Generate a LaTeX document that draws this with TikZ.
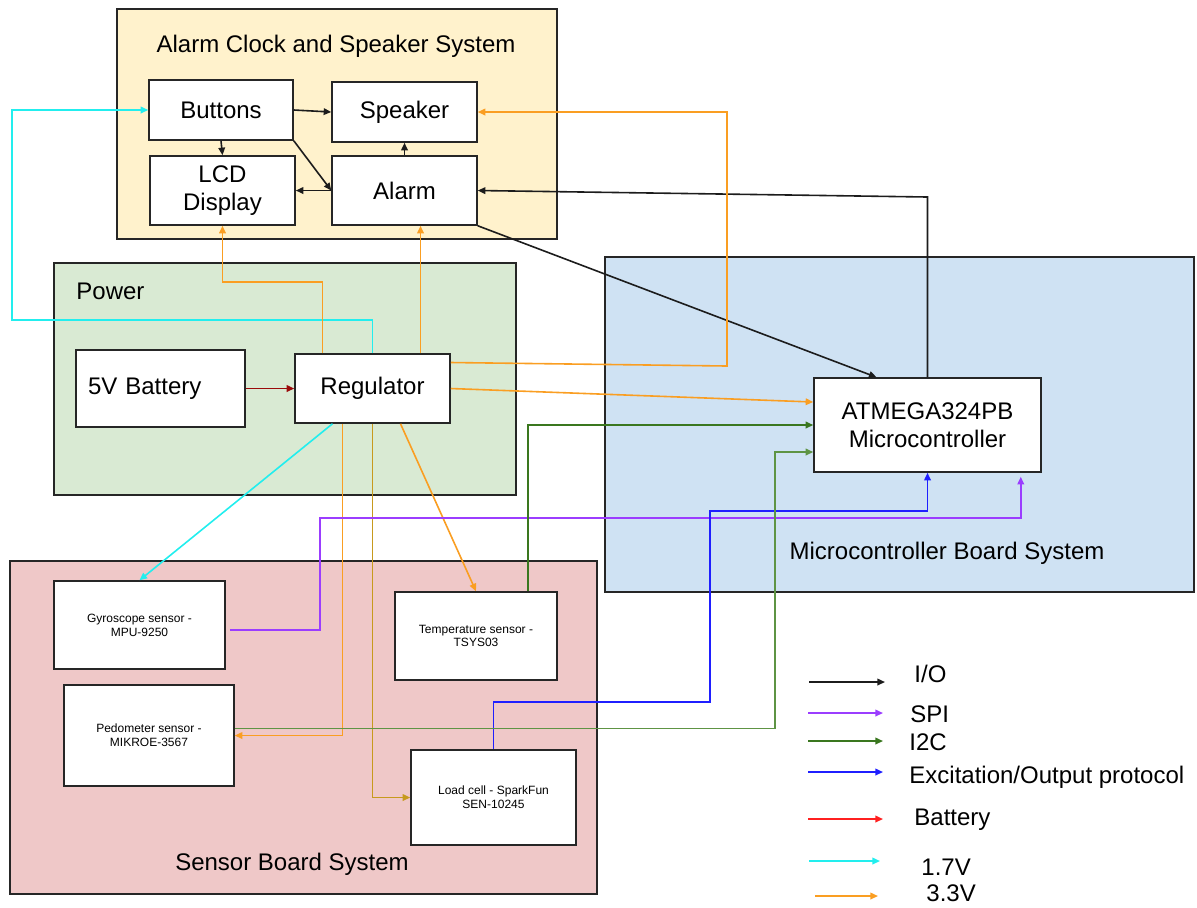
\documentclass[tikz,border=0pt]{standalone}
\usepackage{fontspec}
\setmainfont{Liberation Sans}
\usetikzlibrary{arrows.meta, calc, positioning}

\definecolor{alarmbg}{HTML}{FFF2CC}
\definecolor{powerbg}{HTML}{D9EAD3}
\definecolor{mcubg}{HTML}{CFE2F3}
\definecolor{sensorbg}{HTML}{EFC8C8}
\definecolor{edgecol}{HTML}{262626}
\definecolor{iocol}{HTML}{1C1C1C}
\definecolor{spicol}{HTML}{9B3DFF}
\definecolor{i2ccol}{HTML}{3A771F}
\definecolor{i2clight}{HTML}{5E9444}
\definecolor{exccol}{HTML}{1F1FFF}
\definecolor{battcol}{HTML}{9A0A0A}
\definecolor{battkey}{HTML}{FF2020}
\definecolor{lowvcol}{HTML}{22EEEE}
\definecolor{highvcol}{HTML}{FA9E22}
\definecolor{loadcol}{HTML}{C79A1E}

\tikzset{
  grpbox/.style={draw=edgecol, line width=0.75pt, inner sep=0pt},
  block/.style={draw=edgecol, fill=white, line width=0.75pt, inner sep=0pt,
    align=center, font=\fontsize{12}{14.2}\selectfont},
  sensor/.style={block, font=\fontsize{6}{6.9}\selectfont},
  grptitle/.style={inner sep=0pt, font=\fontsize{12}{14}\selectfont},
  legtext/.style={inner sep=0pt, anchor=west, font=\fontsize{12}{14}\selectfont},
  wire/.style={line width=0.8pt, -{Triangle[length=3.8pt,width=3.3pt]}},
  io/.style={wire, draw=iocol},
  spi/.style={wire, draw=spicol},
  i2c/.style={wire, draw=i2ccol},
  exc/.style={wire, draw=exccol},
  batt/.style={wire, draw=battcol},
  v17/.style={wire, draw=lowvcol},
  v33/.style={wire, draw=highvcol},
}

\begin{document}
\begin{tikzpicture}[x=0.5pt, y=-0.5pt]
\useasboundingbox (0,0) rectangle (1197,907);

% subsystem panels
\node[grpbox, fill=alarmbg, minimum width=220pt, minimum height=115pt] (alarmgrp) at (337,124) {};
\node[grpbox, fill=powerbg, minimum width=231pt, minimum height=116pt] (powergrp) at (285,379) {};
\node[grpbox, fill=mcubg, minimum width=294.5pt, minimum height=167.5pt] (mcugrp) at (899.5,424.5) {};
\node[grpbox, fill=sensorbg, minimum width=293.5pt, minimum height=166.5pt] (sensorgrp) at (303.5,727.5) {};

\node[grptitle] (alarmtitle) at (336,46) {Alarm Clock and Speaker System};
\node[grptitle, anchor=west] (powertitle) at (76,291) {Power};
\node[grptitle] (mcutitle) at (947,553) {Microcontroller Board System};
\node[grptitle] (sensortitle) at (292,864) {Sensor Board System};

% alarm clock blocks
\node[block, minimum width=72pt, minimum height=30pt] (buttons) at (221,110) {Buttons};
\node[block, minimum width=72.5pt, minimum height=30pt] (speaker) at (404.5,112) {Speaker};
\node[block, minimum width=72.5pt, minimum height=34.5pt] (lcd) at (222.5,190.5) {LCD\\Display};
\node[block, minimum width=72.5pt, minimum height=34.5pt] (alarm) at (404.5,190.5) {Alarm};

% power blocks
\node[block, minimum height=38.5pt, inner xsep=6pt, text width=72.5pt, align=left] (battery) at (160.5,388.5) {5V Battery};
\node[block, minimum width=77.5pt, minimum height=34.5pt] (regulator) at (372.5,388.5) {Regulator};

% microcontroller
\node[block, minimum width=113.5pt, minimum height=47pt] (mcu) at (927.5,425) {ATMEGA324PB\\Microcontroller};

% sensors
\node[sensor, minimum width=85.5pt, minimum height=44pt] (gyro) at (139.5,625) {Gyroscope sensor -\\MPU-9250};
\node[sensor, minimum width=81pt, minimum height=44pt] (temp) at (476,636) {Temperature sensor -\\TSYS03};
\node[sensor, minimum width=85pt, minimum height=50.5pt] (pedo) at (149,735.5) {Pedometer sensor -\\MIKROE-3567};
\node[sensor, minimum width=82.5pt, minimum height=47.5pt] (load) at (493.5,797.5) {Load cell - SparkFun\\SEN-10245};

% I/O lines
\draw[io] (buttons.east) -- (speaker.west);
\draw[io] (buttons.south) -- (lcd.north);
\draw[io] (buttons.south east) -- (alarm.west);
\draw[io] (alarm.west) -- (lcd.east);
\draw[io] (alarm.north) -- (speaker.south);
\draw[io] (mcu.north) -- (mcu.north |- 0,197) -- (alarm.east);
\draw[io] (alarm.south east) -- ($(mcu.north)+(-51,0)$);

% supply lines
\draw[batt] (battery.east) -- (regulator.west);
\draw[v17] (regulator.north) |- (12,320) |- (buttons.west);
\draw[v17] ($(regulator.south)+(-40,0)$) -- (gyro.north);
\draw[v33] ($(regulator.north)+(-50,0)$) -- ++(0,-71) -| (lcd.south);
\draw[v33] ($(regulator.north)+(48,0)$) coordinate (upal) -- (upal |- alarm.south);
\draw[v33] ($(regulator.east)+(0,-26)$) -- (727,366) |- (speaker.east);
\draw[v33] (regulator.east) -- ($(mcu.west)+(0,-23)$);
\draw[v33] ($(regulator.south)+(-30,0)$) |- (pedo.east);
\draw[v33] ($(regulator.south)+(28,0)$) -- (temp.north);
\draw[v33, draw=loadcol] (regulator.south) |- (load.west);

% bus lines
\draw[spi] ($(gyro.east)+(4,5)$) -| (320,518) -| ($(mcu.south east)+(-21,4)$);
\draw[exc] (load.north) -- ++(0,-47) -| (710,511) -| (mcu.south);
\draw[i2c] ($(temp.north east)+(-30,0)$) |- (mcu.west);
\draw[i2c, draw=i2clight] ($(pedo.east)+(0,-7)$) -- (775,728.5) |- ($(mcu.west)+(0,27)$);

% key
\foreach \name/\lbl/\col/\ya/\xa/\xb/\xl/\yl in {
  keyio/{I/O}/iocol/682/809/885/914/674,
  keyspi/SPI/spicol/713/808/883/910/714,
  keyitc/I2C/i2ccol/741/808/883/909/742,
  keyexc/{Excitation/Output protocol}/exccol/772/808/883/909/777,
  keybatt/Battery/battkey/819/808/883/914/820,
  keylow/1.7V/lowvcol/861/809/880/921/867,
  keyhigh/3.3V/highvcol/896/815/878/926/893}
{
  \coordinate (\name-a) at (\xa,\ya);
  \coordinate (\name-b) at (\xb,\ya);
  \draw[wire, draw=\col] (\name-a) -- (\name-b);
  \node[legtext] (\name-lbl) at (\xl,\yl) {\lbl};
}

\end{tikzpicture}
\end{document}
